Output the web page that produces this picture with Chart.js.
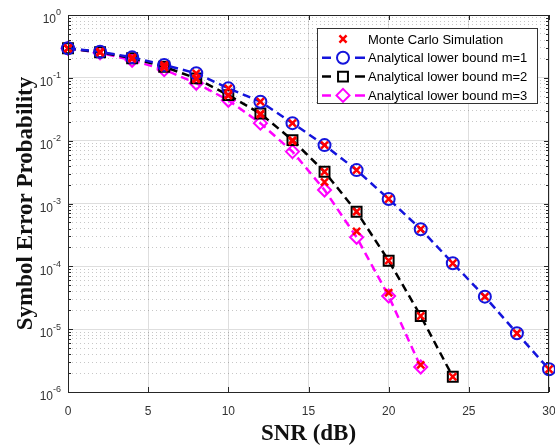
<!DOCTYPE html>
<html>
<head>
<meta charset="utf-8">
<script src="https://cdn.jsdelivr.net/npm/chart.js@4"></script>
<style>
  body { margin: 0; background: #fff; }
</style>
</head>
<body>
<canvas id="myChart" width="555" height="446"></canvas>
<script>
// SNR points (dB)
var snr = [0, 2, 4, 6, 8, 10, 12, 14, 16, 18, 20, 22, 24, 26, 28, 30];

// analytical lower bounds
var boundM1 = [0.295, 0.26, 0.212, 0.16, 0.118, 0.068, 0.0417, 0.019, 0.0085, 0.0034, 0.00118, 0.00039, 0.000112, 0.0000329, 0.0000086, 0.0000023];
var boundM2 = [0.295, 0.255, 0.205, 0.15, 0.098, 0.053, 0.027, 0.0102, 0.0032, 0.00074, 0.000123, 0.0000162, 0.00000175];
var boundM3 = [0.295, 0.25, 0.19, 0.135, 0.082, 0.044, 0.019, 0.0067, 0.00164, 0.00029, 0.0000337, 0.0000025];

// monte carlo runs, one per m
var mcM1 = [0.295, 0.26, 0.212, 0.16, 0.118, 0.068, 0.0417, 0.019, 0.0085, 0.0034, 0.00118, 0.00039, 0.000112, 0.0000329, 0.0000086, 0.0000023];
var mcM2 = [0.295, 0.255, 0.205, 0.15, 0.098, 0.053, 0.027, 0.0102, 0.0032, 0.00074, 0.000123, 0.0000162, 0.00000175];
var mcM3 = [0.295, 0.255, 0.2, 0.145, 0.095, 0.052, 0.026, 0.0098, 0.0022, 0.00036, 0.000038, 0.0000027];

var xTicks = [0, 5, 10, 15, 20, 25, 30];
var yDecades = [-6, -5, -4, -3, -2, -1, 0];

var labels = ['Monte Carlo Simulation', 'Analytical lower bound m=1', 'Analytical lower bound m=2', 'Analytical lower bound m=3'];

function toPoints(vals){
    var pts = [];
    for(var i = 0;i<vals.length;i++){
        pts.push({x: snr[i], y: vals[i]});
    }
    return pts;
}

function isDecade(v){
    var l = Math.log10(v);
    return Math.abs(l - Math.round(l)) < 1e-6;
}

// all y ticks: 1..9 per decade, the minor ones get dotted grid lines
function yTickValues(){
    var arr = [];
    for(var e = -6;e<0;e++){
        for(var d = 1;d<=9;d++){
            arr.push(d * Math.pow(10, e));
        }
    }
    arr.push(1);
    return arr;
}

var axisColor = '#262626';
var gridMajor = '#dedede';
var gridMinor = 'rgba(0,0,0,0.22)';

// box, ticks pointing inward, legend
var framePlugin = {
    id: 'frame',
    afterDatasetsDraw: function(chart){
        var c = chart.ctx, a = chart.chartArea;
        var xs = chart.scales.x, ys = chart.scales.y;
        c.save();
        c.strokeStyle = axisColor;
        c.lineWidth = 1;
        c.strokeRect(a.left + 0.5, a.top + 0.5, a.right - a.left - 1, a.bottom - a.top);
        c.beginPath();
        xTicks.forEach(function(t){
            var px = Math.round(xs.getPixelForValue(t)) + 0.5;
            c.moveTo(px, a.bottom); c.lineTo(px, a.bottom - 5);
            c.moveTo(px, a.top); c.lineTo(px, a.top + 5);
        });
        ys.ticks.forEach(function(t){
            var py = Math.round(ys.getPixelForValue(t.value)) + 0.5;
            var len = isDecade(t.value) ? 5 : 3;
            c.moveTo(a.left, py); c.lineTo(a.left + len, py);
            c.moveTo(a.right, py); c.lineTo(a.right - len, py);
        });
        c.stroke();

        // legend box
        var bw = 220, bh = 75;
        var bx = a.right - bw - 12, by = a.top + 13;
        c.fillStyle = '#fff';
        c.fillRect(bx, by, bw, bh);
        c.strokeStyle = '#333';
        c.strokeRect(bx + 0.5, by + 0.5, bw, bh);
        c.font = '13px "Liberation Sans", Arial, sans-serif';
        c.textBaseline = 'middle';
        chart.data.datasets.forEach(function(ds, i){
            var cy = by + 11 + i * 18.8;
            var mx = bx + 26;
            if(ds.showLine){
                c.strokeStyle = ds.borderColor;
                c.lineWidth = ds.borderWidth;
                c.beginPath();
                c.moveTo(bx + 5, cy); c.lineTo(bx + 14, cy);
                c.moveTo(bx + 38, cy); c.lineTo(bx + 48, cy);
                c.stroke();
            }
            c.lineWidth = ds.pointBorderWidth;
            c.strokeStyle = ds.pointBorderColor;
            c.fillStyle = 'rgba(0,0,0,0)';
            Chart.helpers.drawPoint(c, {pointStyle: ds.pointStyle, radius: ds.pointRadius, borderWidth: ds.pointBorderWidth, rotation: 0}, mx, cy);
            c.fillStyle = '#000';
            c.textAlign = 'left';
            c.fillText(labels[i], bx + 51, cy + 1);
        });
        c.restore();
    },
    afterDraw: function(chart){
        // 10^n tick labels with raised exponent
        var c = chart.ctx, ys = chart.scales.y, a = chart.chartArea;
        c.save();
        c.fillStyle = '#333';
        c.textBaseline = 'middle';
        c.textAlign = 'left';
        var right = a.left - 7;
        yDecades.forEach(function(e){
            var py = ys.getPixelForValue(Math.pow(10, e));
            var ex = e < 0 ? '-' + (-e) : '' + e;
            c.font = '9px "Liberation Sans", Arial, sans-serif';
            var we = c.measureText(ex).width;
            c.font = '12px "Liberation Sans", Arial, sans-serif';
            var wb = c.measureText('10').width;
            var x0 = right - we - wb;
            c.fillText('10', x0, py + 5);
            c.font = '9px "Liberation Sans", Arial, sans-serif';
            c.fillText(ex, x0 + wb, py - 2);
        });
        c.restore();
    }
};

var ctx = document.getElementById('myChart').getContext('2d');
var chart = new Chart(ctx, {
    type: 'line',
    data: {
        datasets: [{
            label: labels[0],
            data: toPoints(mcM1).concat(toPoints(mcM2), toPoints(mcM3)),
            showLine: false,
            borderColor: '#ff0000',
            backgroundColor: '#ff0000',
            pointStyle: 'crossRot',
            pointRadius: 5,
            pointBorderWidth: 2.5,
            pointBorderColor: '#ff0000',
            clip: false
        }, {
            label: labels[1],
            data: toPoints(boundM1),
            showLine: true,
            borderColor: '#1414dc',
            borderWidth: 2.5,
            borderDash: [8, 5],
            pointStyle: 'circle',
            pointRadius: 6,
            pointBorderWidth: 2,
            pointBorderColor: '#1414dc',
            pointBackgroundColor: 'rgba(0,0,0,0)',
            clip: false
        }, {
            label: labels[2],
            data: toPoints(boundM2),
            showLine: true,
            borderColor: '#000000',
            borderWidth: 2.5,
            borderDash: [8, 5],
            pointStyle: 'rect',
            pointRadius: 7,
            pointBorderWidth: 2,
            pointBorderColor: '#000000',
            pointBackgroundColor: 'rgba(0,0,0,0)',
            clip: false
        }, {
            label: labels[3],
            data: toPoints(boundM3),
            showLine: true,
            borderColor: '#ff00ff',
            borderWidth: 2.5,
            borderDash: [8, 5],
            pointStyle: 'rectRot',
            pointRadius: 6.5,
            pointBorderWidth: 2,
            pointBorderColor: '#ff00ff',
            pointBackgroundColor: 'rgba(0,0,0,0)',
            clip: false
        }]
    },
    options: {
        responsive: false,
        animation: false,
        devicePixelRatio: 1,
        layout: { autoPadding: false, padding: { top: 15, right: 6, left: 0, bottom: 0 } },
        plugins: {
            legend: { display: false },
            tooltip: { enabled: false }
        },
        scales: {
            x: {
                type: 'linear',
                min: 0,
                max: 30,
                afterBuildTicks: function(s){
                    s.ticks = xTicks.map(function(v){ return {value: v}; });
                },
                ticks: {
                    color: '#333',
                    padding: 12,
                    maxRotation: 0,
                    font: { family: '"Liberation Sans", Arial, sans-serif', size: 12 }
                },
                grid: { color: gridMajor, drawTicks: false },
                border: { display: false },
                title: {
                    display: true,
                    text: 'SNR (dB)',
                    color: '#111',
                    font: { family: '"Liberation Serif", "Times New Roman", serif', size: 23, weight: 'bold', lineHeight: 1 },
                    padding: { top: 0, bottom: 0 }
                },
                afterFit: function(s){
                    s.height = 54;
                    s.paddingLeft = 0;
                    s.paddingRight = 0;
                }
            },
            y: {
                type: 'logarithmic',
                min: 1e-6,
                max: 1,
                afterBuildTicks: function(s){
                    s.ticks = yTickValues().map(function(v){ return {value: v, major: isDecade(v)}; });
                },
                ticks: { display: false },
                grid: {
                    drawTicks: false,
                    color: function(c){ return c.tick && !isDecade(c.tick.value) ? gridMinor : gridMajor; }
                },
                border: {
                    display: false,
                    dash: function(c){ return c.tick && !isDecade(c.tick.value) ? [1, 3] : []; }
                },
                title: {
                    display: true,
                    text: 'Symbol Error Probability',
                    color: '#111',
                    font: { family: '"Liberation Serif", "Times New Roman", serif', size: 23, weight: 'bold', lineHeight: 1 },
                    padding: { top: 15, bottom: 0 }
                },
                afterFit: function(s){
                    s.width = 68;
                    s.paddingTop = 0;
                    s.paddingBottom = 0;
                }
            }
        }
    },
    plugins: [framePlugin]
});
</script>
</body>
</html>
